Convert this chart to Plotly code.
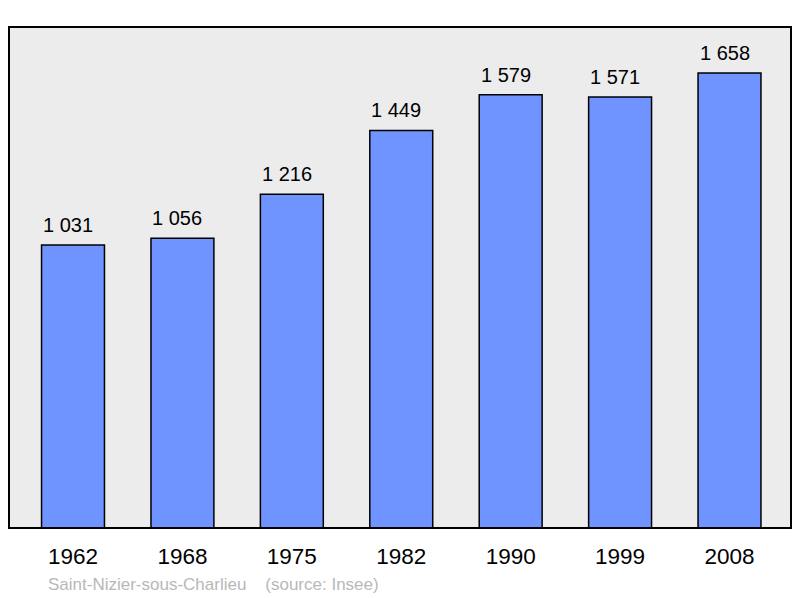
import plotly.graph_objects as go

years = ["1962", "1968", "1975", "1982", "1990", "1999", "2008"]
population = [1031, 1056, 1216, 1449, 1579, 1571, 1658]
footer_text = "Saint-Nizier-sous-Charlieu    (source: Insee)"

xs = list(range(len(years)))
labels = [f"{v:,}".replace(",", " ") for v in population]

fig = go.Figure()
fig.add_trace(go.Bar(
    x=xs, y=population, width=0.575,
    marker=dict(color="#7094ff", line=dict(color="#000000", width=1.5)),
    hoverinfo="skip",
))

for x, v, t in zip(xs, population, labels):
    fig.add_annotation(x=x, y=v, text=t, showarrow=False, yanchor="bottom",
                       yshift=7, xshift=-5,
                       font=dict(family="Liberation Sans, Arial", size=20, color="#000000"))

fig.add_annotation(xref="paper", yref="paper", x=(46 - 9) / 782, y=(528 - 584) / 501,
                   xanchor="left", yanchor="middle", text=footer_text, showarrow=False,
                   font=dict(family="Liberation Sans, Arial", size=17, color="#b8b8b8"))

fig.add_shape(type="rect", xref="paper", yref="paper", x0=0, y0=0, x1=1, y1=1,
              line=dict(color="#000000", width=2), layer="above")

fig.update_layout(
    width=800, height=598,
    margin=dict(l=9, r=9, t=27, b=70),
    paper_bgcolor="#ffffff", plot_bgcolor="#ececec",
    showlegend=False,
    xaxis=dict(range=[-0.585, 6.562], tickvals=xs, ticktext=years, showgrid=False,
               zeroline=False, ticks="outside", ticklen=8, tickcolor="rgba(0,0,0,0)",
               tickfont=dict(family="Liberation Sans, Arial", size=22.5, color="#000000"),
               fixedrange=True),
    yaxis=dict(range=[0, 1826], showticklabels=False, showgrid=False, zeroline=False,
               fixedrange=True),
)

fig.write_html("out.html", config={"displayModeBar": False},
               post_script="document.body.style.margin='0';document.body.style.padding='0';")
